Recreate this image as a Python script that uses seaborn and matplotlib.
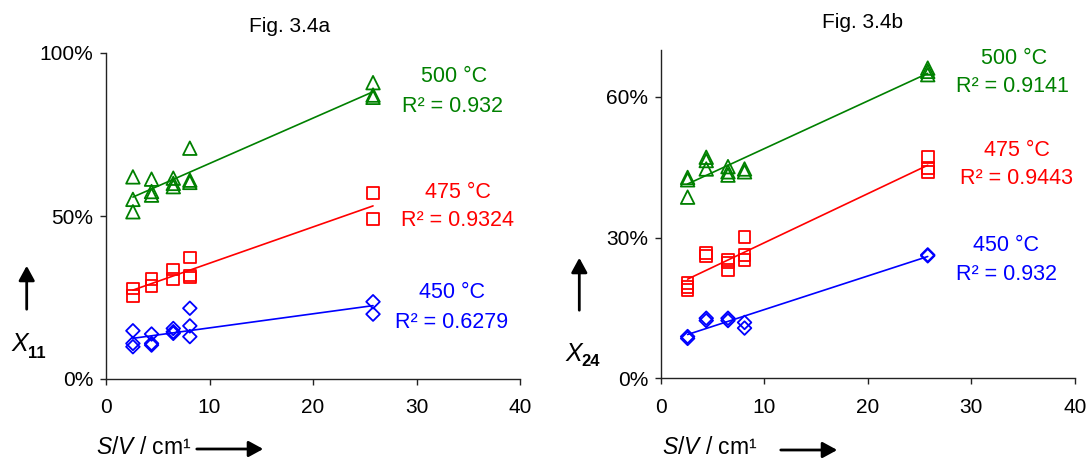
import numpy as np
import pandas as pd
import matplotlib
matplotlib.use("Agg")
import matplotlib.pyplot as plt
import seaborn as sns
from matplotlib.patches import FancyArrowPatch

sns.set_style("ticks")
plt.rcParams['font.family'] = ['Liberation Sans', 'DejaVu Sans']
plt.rcParams['mathtext.fontset'] = 'custom'
plt.rcParams['mathtext.it'] = 'Liberation Sans:italic'
plt.rcParams['mathtext.rm'] = 'Liberation Sans'
plt.rcParams['text.color'] = 'black'
plt.rcParams['xtick.color'] = 'black'
plt.rcParams['ytick.color'] = 'black'

# ---------------- data ----------------
# Fig. 3.4a : X11 (%) vs S/V (cm-1)
a_500_x = [2.6, 2.6, 2.6, 4.4, 4.4, 4.4, 6.5, 6.5, 6.5, 8.1, 8.1, 8.1, 25.8, 25.8, 25.8]
a_500_y = [62.0, 55.1, 51.3, 61.3, 57.5, 56.4, 61.6, 60.0, 59.0, 70.8, 61.0, 60.3, 90.9, 87.1, 86.4]
a_475_x = [2.6, 2.6, 4.4, 4.4, 6.5, 6.5, 8.1, 8.1, 8.1, 25.8, 25.8]
a_475_y = [27.8, 25.4, 30.7, 28.5, 33.6, 30.6, 37.3, 31.7, 31.1, 57.0, 49.0]
a_450_x = [2.6, 2.6, 2.6, 4.4, 4.4, 4.4, 6.5, 6.5, 6.5, 8.1, 8.1, 8.1, 25.8, 25.8]
a_450_y = [14.8, 10.9, 9.9, 13.8, 10.9, 10.4, 15.5, 14.5, 14.0, 21.7, 16.3, 13.0, 23.7, 19.9]

# Fig. 3.4b : X24 (%) vs S/V (cm-1)
b_500_x = [2.6, 2.6, 2.6, 4.4, 4.4, 4.4, 6.5, 6.5, 6.5, 8.1, 8.1, 25.8, 25.8, 25.8]
b_500_y = [42.8, 42.3, 38.6, 47.1, 46.4, 44.6, 45.1, 44.0, 43.3, 44.6, 44.0, 66.1, 65.4, 64.7]
b_475_x = [2.6, 2.6, 2.6, 4.4, 4.4, 6.5, 6.5, 6.5, 8.1, 8.1, 8.1, 25.8, 25.8, 25.8]
b_475_y = [20.3, 19.5, 18.8, 26.7, 26.1, 25.2, 24.7, 23.1, 30.1, 26.3, 25.2, 47.1, 44.8, 44.0]
b_450_x = [2.6, 2.6, 4.4, 4.4, 6.5, 6.5, 8.1, 8.1, 25.8, 25.8]
b_450_y = [8.9, 8.5, 12.8, 12.3, 12.8, 12.3, 11.9, 10.7, 26.1, 26.3]

temps = ["500 °C", "475 °C", "450 °C"]
r2_a = ["R² = 0.932", "R² = 0.9324", "R² = 0.6279"]
r2_b = ["R² = 0.9141", "R² = 0.9443", "R² = 0.932"]
x_ticks = [0, 10, 20, 30, 40]
a_yticks = [0, 50, 100]
b_yticks = [0, 30, 60]
titles = ["Fig. 3.4a", "Fig. 3.4b"]
xlabel = "$S$/$V$ / cm¹"

colors = ["#008000", "#FF0000", "#0000FF"]
markers = ["^", "s", "D"]
msizes = [95, 70, 48]

W, H = 1091, 462
fig = plt.figure(figsize=(W / 100, H / 100), dpi=100)

def px(x, y):
    return x / W, 1 - y / H

ax_a = fig.add_axes([106 / W, (H - 379) / H, 414 / W, 326 / H])
ax_b = fig.add_axes([660.7 / W, (H - 378.3) / H, 414 / W, 328.5 / H])

series_a = [(a_500_x, a_500_y), (a_475_x, a_475_y), (a_450_x, a_450_y)]
series_b = [(b_500_x, b_500_y), (b_475_x, b_475_y), (b_450_x, b_450_y)]

for ax, series, yt, ymax in [(ax_a, series_a, a_yticks, 100), (ax_b, series_b, b_yticks, 70)]:
    for (xs, ys), c, m, s in zip(series, colors, markers, msizes):
        df = pd.DataFrame({"sv": xs, "x": ys})
        sns.regplot(data=df, x="sv", y="x", ax=ax, scatter=False, ci=None,
                    truncate=True, color=c, line_kws={"lw": 1.2})
        sns.scatterplot(data=df, x="sv", y="x", ax=ax, marker=m, s=s,
                        facecolors="none", edgecolors=c, linewidths=1.3, color=c,
                        zorder=3)
    ax.set_xlim(0, 40)
    ax.set_ylim(0, ymax)
    ax.set_xticks(x_ticks)
    ax.set_yticks(yt)
    ax.set_yticklabels([f"{v}%" for v in yt])
    ax.set_xlabel("")
    ax.set_ylabel("")
    sns.despine(ax=ax)
    for sp in ["left", "bottom"]:
        ax.spines[sp].set_linewidth(1.0)
        ax.spines[sp].set_color("#222222")
    ax.tick_params(axis="both", labelsize=15, length=4, width=1.0, color="#222222",
                   labelcolor="black")
    ax.tick_params(axis="x", pad=10)
    ax.tick_params(axis="y", pad=5)

# titles
fig.text(*px(290, 26), titles[0], ha="center", va="center", fontsize=15)
fig.text(*px(863, 22), titles[1], ha="center", va="center", fontsize=15)

# annotations
ann_a = [(454, 77, 453, 106), (458, 192, 457, 221), (452, 293, 452, 323)]
ann_b = [(1014, 58, 1012, 86), (1017, 150, 1017, 178), (1006, 246, 1006, 275)]
for anns, r2s in [(ann_a, r2_a), (ann_b, r2_b)]:
    for (tx, ty, rx, ry), t, r, c in zip(anns, temps, r2s, colors):
        fig.text(*px(tx, ty), t, ha="center", va="center", fontsize=15.5, color=c)
        fig.text(*px(rx, ry), r, ha="center", va="center", fontsize=15.5, color=c)

# y labels
fig.text(*px(20, 344), "X", ha="center", va="center", fontsize=18, style="italic")
fig.text(*px(37, 353), "11", ha="center", va="center", fontsize=12, weight="bold")
fig.text(*px(574, 354), "X", ha="center", va="center", fontsize=18, style="italic")
fig.text(*px(591, 362), "24", ha="center", va="center", fontsize=12, weight="bold")

# x labels
fig.text(*px(96, 448), xlabel, ha="left", va="center", fontsize=16.5)
fig.text(*px(662, 448), xlabel, ha="left", va="center", fontsize=16.5)


def arrow(x0, y0, x1, y1):
    p = FancyArrowPatch((x0, H - y0), (x1, H - y1), transform=None,
                        arrowstyle="-|>,head_length=5.5,head_width=3",
                        mutation_scale=1.6, lw=2.0, color="black")
    fig.patches.append(p)

arrow(26.7, 312, 26.7, 263)
arrow(579.3, 313, 579.3, 255)
arrow(194, 449, 266, 449)
arrow(778, 450, 840, 450)

fig.savefig("out.png", dpi=100)
